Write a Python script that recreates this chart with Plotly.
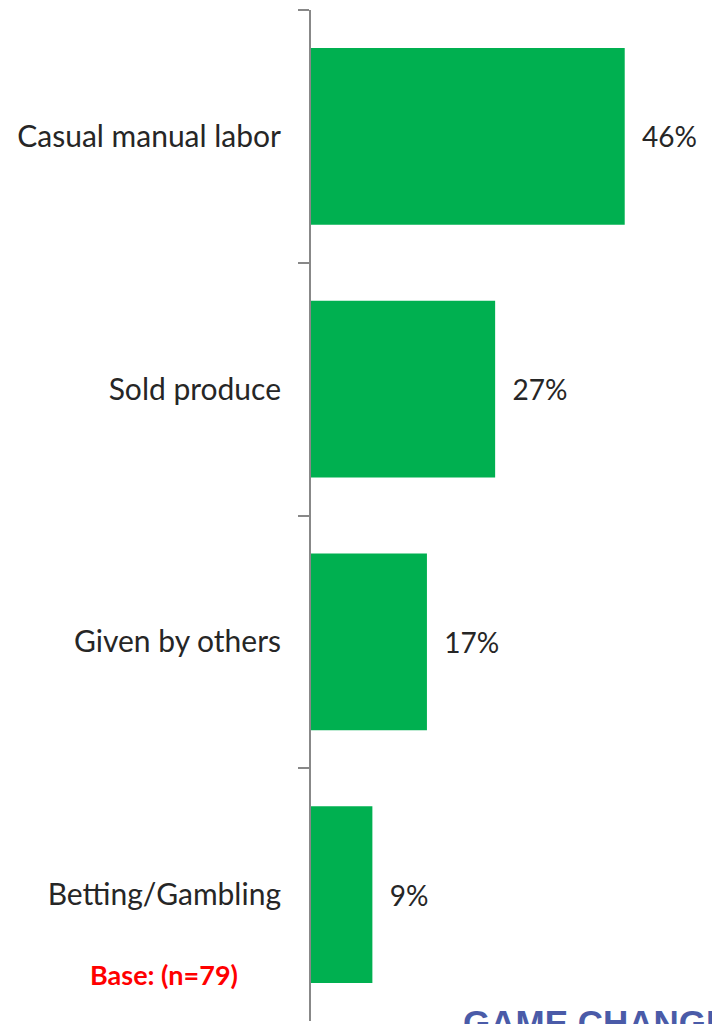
import plotly.graph_objects as go

categories = ["Casual manual labor", "Sold produce", "Given by others", "Betting/Gambling"]
values = [46, 27, 17, 9]
labels = ["46%", "27%", "17%", "9%"]

fig = go.Figure(go.Bar(
    x=values, y=categories, orientation="h",
    marker=dict(color="#00B050", line=dict(width=0)),
    text=["\u00a0\u00a0" + t for t in labels], textposition="outside", cliponaxis=False,
    textfont=dict(family="Lato", size=28, color="#262626"),
))
fig.update_layout(
    width=712, height=1024,
    margin=dict(l=311, r=60, t=10, b=3),
    paper_bgcolor="white", plot_bgcolor="white",
    bargap=0.3, showlegend=False,
    font=dict(family="Lato", size=28, color="#262626"),
)
fig.update_xaxes(range=[0, 50], visible=False)
fig.update_yaxes(
    autorange="reversed", tickson="boundaries", ticks="outside", ticklen=11,
    tickwidth=2, tickcolor="#888888", showline=True, linewidth=2, linecolor="#888888",
    showgrid=False, ticklabelstandoff=22,
    tickfont=dict(family="Lato", size=30, color="#262626"),
)
fig.add_annotation(
    text="<b>Base: (n=79)</b>", xref="paper", yref="paper", x=-0.43, y=0.0455,
    xanchor="center", yanchor="middle", showarrow=False,
    font=dict(family="Lato", size=27, color="#FF0000"),
)
fig.add_annotation(
    text="<b>GAME CHANGER</b>", xref="paper", yref="paper", x=0.44, y=0.020,
    xanchor="left", yanchor="top", showarrow=False,
    font=dict(family="Liberation Sans Narrow, Arial", size=35, color="#4A5BA8"),
)
fig.write_html("out.html", config={"displayModeBar": False},
               post_script="document.body.style.margin='0';document.body.style.padding='0';")
